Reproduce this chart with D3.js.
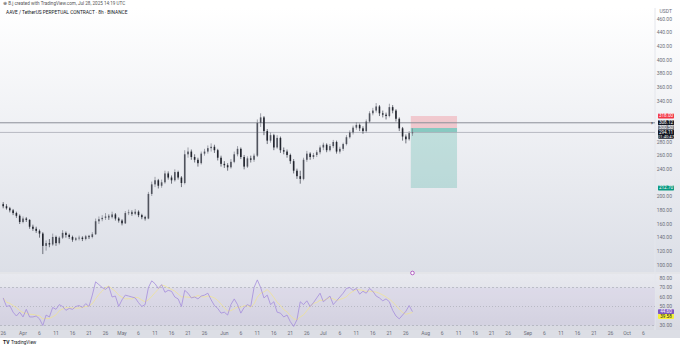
<!DOCTYPE html>
<html>
<head>
<meta charset="utf-8">
<script src="https://cdn.jsdelivr.net/npm/d3@7"></script>
<style>
  body { margin: 0; background: #fff; }
  text { font-family: Roboto, "Liberation Sans", sans-serif; }
</style>
</head>
<body>
<svg id="chart"></svg>
<script>
// daily candles, starting 2025-03-26
var firstDay = Date.UTC(2025, 2, 26);
var opens  = [189,186,183,180,176,172,163,168,166,156,153,150,146,128,132,130,141,132,140,147,144,141,137,139,140,138,142,141,145,164,
              167,169,171,170,174,168,165,161,176,177,175,178,173,170,168,204,218,224,216,221,234,228,224,236,228,220,262,266,258,254,
              249,263,266,271,273,268,257,248,246,243,251,262,270,258,244,256,254,260,308,316,296,282,290,272,286,268,266,261,252,238,
              230,226,254,263,258,261,265,272,276,268,274,280,266,270,277,287,294,301,305,300,296,310,322,326,332,322,320,318,331,326,
              314,300,288,284,293];
var highs  = [192,189,185,182,178,174,171,170,167,159,156,152,148,136,138,146,143,142,151,149,146,143,141,143,142,144,144,148,168,171,
              173,176,174,178,176,170,167,179,181,180,182,180,175,172,207,222,229,226,225,238,237,231,240,238,230,268,272,269,262,257,
              266,270,275,278,276,270,260,252,249,255,266,274,272,261,259,260,263,313,322,318,299,294,292,290,288,272,269,263,255,241,
              238,257,267,265,264,268,275,279,278,277,283,282,273,279,290,297,304,309,307,303,313,325,330,337,334,326,323,336,334,328,
              316,302,291,296,300];
var lows   = [183,181,177,173,169,160,161,163,153,150,147,140,116,121,126,128,128,130,138,140,138,134,135,136,135,136,138,139,144,160,
              164,166,166,168,165,162,158,160,173,172,173,170,167,165,167,201,214,212,213,219,225,219,222,225,214,218,257,254,250,244,
              247,260,263,266,264,253,244,242,238,241,249,259,255,240,242,250,251,258,302,290,277,279,268,270,264,262,257,248,234,226,
              219,224,251,254,255,258,262,268,265,266,271,263,263,267,275,285,291,298,296,292,294,308,319,323,318,316,313,316,322,310,
              296,282,278,282,289];
var closes = [186,183,180,176,172,163,168,166,156,153,150,146,128,132,130,141,132,140,147,144,141,137,139,140,138,142,141,145,164,167,
              169,171,170,174,168,165,161,176,177,175,178,173,170,168,204,218,224,216,221,234,228,224,236,228,220,262,266,258,254,249,
              263,266,271,273,268,257,248,246,243,251,262,270,258,244,256,254,260,308,316,296,282,290,272,286,268,266,261,252,238,230,
              226,254,263,258,261,265,272,276,268,274,280,266,270,277,287,294,301,305,300,296,310,322,326,332,322,320,318,331,326,314,
              300,288,284,293,294];
var rsi    = [59,50,51,44,40,44,39,47,39,39,40,37,30,41,39,49,47,52,50,46,48,47,50,51,49,53,50,62,76,73,
              70,68,71,60,61,50,57,62,61,60,59,54,50,52,70,77,74,69,73,65,67,66,60,58,50,67,64,59,60,58,
              61,62,64,57,51,48,43,44,41,52,58,52,43,49,52,50,70,78,70,59,62,52,55,44,43,39,41,34,29,36,
              55,52,56,50,54,59,64,55,58,61,52,56,60,64,69,70,67,69,63,66,64,69,66,61,59,56,58,55,46,40,
              37,41,45,51,44.6];

var priceTicks = [100,120,140,160,180,200,220,240,260,280,300,320,340,360,380,400,420,440,460];
var rsiTicks = [30,40,50,60,70,80];
var monthNames = ["Apr","May","Jun","Jul","Aug","Sep","Oct"];
var tickDays = [6,11,16,21,26];

var lineLevel = 308.12;
var entryPrice = 300.50, stopPrice = 318.00, targetPrice = 212.70;
var positionStart = Date.UTC(2025, 6, 27, 12), positionEnd = Date.UTC(2025, 7, 10, 12);
var rsiMaLast = 39.58;
var countdown = "01:40:47";

var W = 680, H = 347;
var paneRight = 655;
var mainTop = 8, mainBottom = 272;
var rsiTop = 274, rsiBottom = 330;

var svg = d3.select("#chart").attr("width", W).attr("height", H);
var defs = svg.append("defs");

var g1 = defs.append("linearGradient").attr("id", "bgMain").attr("x1", 0).attr("x2", 0).attr("y1", 0).attr("y2", 1);
g1.append("stop").attr("offset", "0%").attr("stop-color", "#ffffff");
g1.append("stop").attr("offset", "100%").attr("stop-color", "#dcdfe7");
var g2 = defs.append("linearGradient").attr("id", "bgRsi").attr("x1", 0).attr("x2", 0).attr("y1", 0).attr("y2", 1);
g2.append("stop").attr("offset", "0%").attr("stop-color", "#e8e9ef");
g2.append("stop").attr("offset", "100%").attr("stop-color", "#d9dae2");

defs.append("clipPath").attr("id", "clipMain").append("rect")
  .attr("x", 0).attr("y", mainTop).attr("width", paneRight).attr("height", mainBottom - mainTop);
defs.append("clipPath").attr("id", "clipRsi").append("rect")
  .attr("x", 0).attr("y", rsiTop).attr("width", paneRight).attr("height", rsiBottom - rsiTop);

// backgrounds
svg.append("rect").attr("x", 0).attr("y", mainTop).attr("width", W).attr("height", mainBottom - mainTop).attr("fill", "url(#bgMain)");
svg.append("rect").attr("x", 0).attr("y", rsiTop).attr("width", W).attr("height", rsiBottom - rsiTop).attr("fill", "url(#bgRsi)");
svg.append("rect").attr("x", 0).attr("y", rsiBottom).attr("width", W).attr("height", 8).attr("fill", "#dcdee5");
svg.append("line").attr("x1", 0).attr("x2", W).attr("y1", mainBottom + 1).attr("y2", mainBottom + 1).attr("stroke", "#c9cbd3");
svg.append("line").attr("x1", paneRight).attr("x2", paneRight).attr("y1", mainTop).attr("y2", rsiBottom).attr("stroke", "#e4e6ec");

var x = d3.scaleUtc().domain([Date.UTC(2025, 3, 1), Date.UTC(2025, 9, 1)]).range([23, 627]);
var y = d3.scaleLinear().domain([100, 460]).range([265, 19]);
var yr = d3.scaleLinear().domain([30, 80]).range([325.5, 278]);

var DAY = 86400000;
var candles = closes.map(function (c, i) {
  return { date: new Date(firstDay + i * DAY), o: opens[i], h: highs[i], l: lows[i], c: c };
});

// position tool (short)
var pos = svg.append("g").attr("clip-path", "url(#clipMain)");
var px0 = x(positionStart), px1 = x(positionEnd);
var lastClose = closes[closes.length - 1];
pos.append("rect").attr("x", px0).attr("width", px1 - px0)
  .attr("y", y(stopPrice)).attr("height", y(entryPrice) - y(stopPrice)).attr("fill", "rgba(242,54,69,0.22)");
pos.append("rect").attr("x", px0).attr("width", px1 - px0)
  .attr("y", y(entryPrice)).attr("height", y(targetPrice) - y(entryPrice)).attr("fill", "rgba(8,153,129,0.2)");
pos.append("rect").attr("x", px0).attr("width", px1 - px0)
  .attr("y", y(entryPrice)).attr("height", y(lastClose) - y(entryPrice)).attr("fill", "rgba(8,153,129,0.3)");

// horizontal lines
svg.append("line").attr("x1", 0).attr("x2", paneRight).attr("y1", y(lineLevel)).attr("y2", y(lineLevel))
  .attr("stroke", "#8c8f98").attr("stroke-width", 1);
svg.append("line").attr("x1", 0).attr("x2", paneRight).attr("y1", y(lastClose)).attr("y2", y(lastClose))
  .attr("stroke", "#a9acb5").attr("stroke-width", 0.8);

// candles
var cg = svg.append("g").attr("clip-path", "url(#clipMain)");
cg.selectAll("line.wick").data(candles).enter().append("line")
  .attr("x1", function (d) { return x(d.date); }).attr("x2", function (d) { return x(d.date); })
  .attr("y1", function (d) { return y(d.h); }).attr("y2", function (d) { return y(d.l); })
  .attr("stroke", function (d) { return d.c >= d.o ? "#7d808a" : "#3a3e49"; }).attr("stroke-width", 0.7);
cg.selectAll("rect.body").data(candles).enter().append("rect")
  .attr("x", function (d) { return x(d.date) - 0.8; }).attr("width", 1.6)
  .attr("y", function (d) { return y(Math.max(d.o, d.c)); })
  .attr("height", function (d) { return Math.max(0.8, Math.abs(y(d.o) - y(d.c))); })
  .attr("fill", function (d) { return d.c >= d.o ? "#50535d" : "#22252e"; });

// RSI pane
var rg = svg.append("g").attr("clip-path", "url(#clipRsi)");
rg.append("rect").attr("x", 0).attr("width", paneRight).attr("y", yr(70)).attr("height", yr(30) - yr(70))
  .attr("fill", "rgba(126,87,194,0.07)");
[70, 50, 30].forEach(function (v) {
  rg.append("line").attr("x1", 0).attr("x2", paneRight).attr("y1", yr(v)).attr("y2", yr(v))
    .attr("stroke", "#a3a6af").attr("stroke-width", 0.6).attr("stroke-dasharray", v === 50 ? "1,2" : "2,2");
});
var rsiData = rsi.map(function (v, i) { return { date: new Date(firstDay + i * DAY), v: v }; });
var maData = rsiData.map(function (d, i) {
  var win = rsi.slice(Math.max(0, i - 4), i + 1);
  return { date: d.date, v: d3.mean(win) };
});
var ln = d3.line().x(function (d) { return x(d.date); }).y(function (d) { return yr(d.v); });
rg.append("path").datum(maData).attr("d", ln).attr("fill", "none").attr("stroke", "#f2e48a").attr("stroke-width", 0.7);
rg.append("path").datum(rsiData).attr("d", ln).attr("fill", "none").attr("stroke", "#a58ddc").attr("stroke-width", 0.8);

svg.append("circle").attr("cx", x(new Date(firstDay + 124 * DAY))).attr("cy", mainBottom + 1).attr("r", 1.8)
  .attr("fill", "#fff").attr("stroke", "#9c27b0").attr("stroke-width", 0.7);

// price labels
var axisX = 672;
var labels = [
  { v: stopPrice, t: stopPrice.toFixed(2), fill: "#f23645", col: "#fff", h: 5 },
  { v: lineLevel, t: lineLevel.toFixed(2), fill: "#131722", col: "#fff", h: 5 },
  { v: entryPrice, t: entryPrice.toFixed(2), fill: "#787b86", col: "#fff", h: 5 },
  { v: lastClose, t: "294.11", t2: countdown, fill: "#131722", col: "#fff", h: 9 },
  { v: targetPrice, t: targetPrice.toFixed(2), fill: "#089981", col: "#fff", h: 5 }
];
var labelYs = labels.map(function (l) { return y(l.v); });
var axis = svg.append("g");
priceTicks.forEach(function (v) {
  var yy = y(v);
  if (labelYs.some(function (ly) { return Math.abs(ly - yy) < 5; })) return;
  axis.append("text").attr("x", axisX).attr("y", yy + 1.8).attr("text-anchor", "end")
    .attr("font-size", 5).attr("fill", "#6a6d78").text(v.toFixed(2));
});
axis.append("text").attr("x", axisX).attr("y", 13).attr("text-anchor", "end")
  .attr("font-size", 5).attr("fill", "#6a6d78").text("USDT");
labels.forEach(function (l) {
  var yy = y(l.v);
  var top = l.t2 ? yy - 2.8 : yy - l.h / 2;
  axis.append("rect").attr("x", 658).attr("y", top).attr("width", 16).attr("height", l.h).attr("rx", 0.8).attr("fill", l.fill);
  axis.append("text").attr("x", 666).attr("y", top + 3.9).attr("text-anchor", "middle")
    .attr("font-size", 4.6).attr("fill", l.col).text(l.t);
  if (l.t2) axis.append("text").attr("x", 666).attr("y", top + 8).attr("text-anchor", "middle")
    .attr("font-size", 4.2).attr("fill", l.col).text(l.t2);
});
axis.append("text").attr("x", 652).attr("y", y(lineLevel) + 2).attr("text-anchor", "middle")
  .attr("font-size", 5).attr("fill", "#131722").text("»");

// RSI axis
var rsiLabels = [
  { v: rsi[rsi.length - 1], t: rsi[rsi.length - 1].toFixed(2), fill: "#7e57c2", col: "#fff" },
  { v: rsiMaLast, t: rsiMaLast.toFixed(2), fill: "#f7f03a", col: "#131722" }
];
rsiTicks.forEach(function (v) {
  var yy = yr(v);
  if (rsiLabels.some(function (l) { return Math.abs(yr(l.v) - yy) < 4.5; })) return;
  axis.append("text").attr("x", axisX).attr("y", yy + 1.8).attr("text-anchor", "end")
    .attr("font-size", 5).attr("fill", "#6a6d78").text(v.toFixed(2));
});
rsiLabels.forEach(function (l) {
  var yy = yr(l.v);
  axis.append("rect").attr("x", 658).attr("y", yy - 2.5).attr("width", 16).attr("height", 5).attr("rx", 0.8).attr("fill", l.fill);
  axis.append("text").attr("x", 666).attr("y", yy + 1.6).attr("text-anchor", "middle")
    .attr("font-size", 4.6).attr("fill", l.col).text(l.t);
});

// time axis
var timeTicks = [{ d: Date.UTC(2025, 2, 26), t: "26" }];
monthNames.forEach(function (m, i) {
  timeTicks.push({ d: Date.UTC(2025, 3 + i, 1), t: m });
  tickDays.forEach(function (dd) { timeTicks.push({ d: Date.UTC(2025, 3 + i, dd), t: String(dd) }); });
});
timeTicks.filter(function (tk) { return x(tk.d) < 650; }).forEach(function (tk) {
  axis.append("text").attr("x", x(tk.d)).attr("y", 334.5).attr("text-anchor", "middle")
    .attr("font-size", 5).attr("fill", "#6a6d78").text(tk.t);
});

// header / footer texts
svg.append("text").attr("x", 3).attr("y", 5).attr("font-size", 4.6).attr("fill", "#555")
  .text("\u2295 B.j created with TradingView.com, Jul 28, 2025 14:19 UTC");
svg.append("text").attr("x", 6).attr("y", 14).attr("font-size", 4.8).attr("fill", "#131722")
  .text("AAVE / TetherUS PERPETUAL CONTRACT \u00b7 8h \u00b7 BINANCE");
svg.append("text").attr("x", 3).attr("y", 344).attr("font-size", 5).attr("font-weight", "bold").attr("fill", "#131722").text("TV");
svg.append("text").attr("x", 11).attr("y", 344).attr("font-size", 4.6).attr("fill", "#131722").text("TradingView");
</script>
</body>
</html>
